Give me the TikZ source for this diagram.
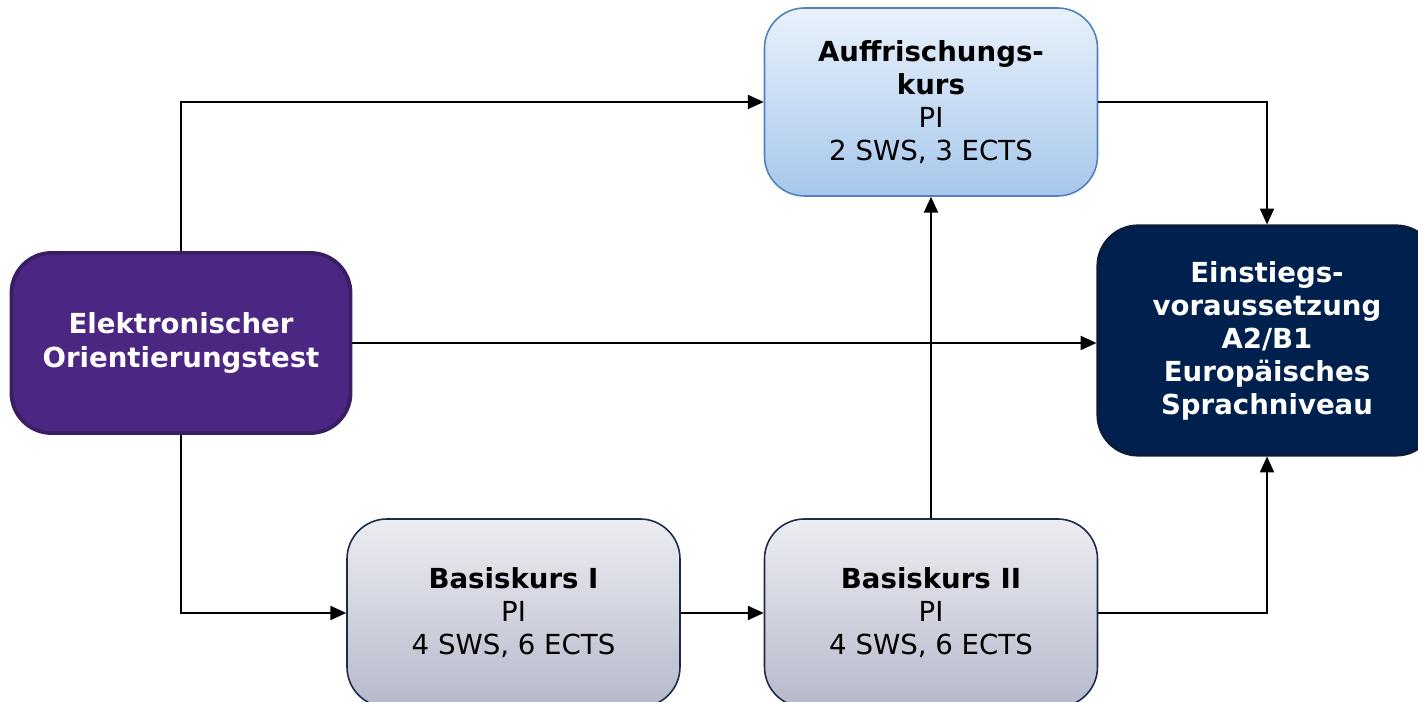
\documentclass[tikz,border=0pt]{standalone}
\usepackage{fontspec}
\setmainfont{DejaVu Sans}
\usetikzlibrary{positioning, arrows.meta}
\definecolor{testcol}{RGB}{75,38,130}
\definecolor{testborder}{RGB}{58,30,99}
\definecolor{goalcol}{RGB}{0,33,78}
\definecolor{goalborder}{RGB}{12,27,58}
\definecolor{refreshtop}{RGB}{232,241,251}
\definecolor{refreshbot}{RGB}{167,199,235}
\definecolor{refreshborder}{RGB}{79,129,189}
\definecolor{basetop}{RGB}{236,237,242}
\definecolor{basebot}{RGB}{182,185,203}
\definecolor{baseborder}{RGB}{27,42,74}

\begin{document}
\begin{tikzpicture}[
			box/.style={
				rectangle,
				rounded corners=0.8cm,
				align=center,
				font=\fontsize{15.7}{18.8}\selectfont,
				inner sep=0pt
			},
			testbox/.style={
				box,
				draw=testborder,
				line width=2.2pt,
				fill=testcol,
				text=white,
				minimum width=6.78cm,
				minimum height=3.6cm
			},
			goalbox/.style={
				box,
				draw=goalborder,
				line width=1.8pt,
				fill=goalcol,
				text=white,
				minimum width=6.76cm,
				minimum height=4.58cm
			},
			refreshbox/.style={
				box,
				draw=refreshborder,
				line width=0.9pt,
				top color=refreshtop,
				bottom color=refreshbot,
				minimum width=6.66cm,
				minimum height=3.76cm
			},
			basebox/.style={
				box,
				draw=baseborder,
				line width=0.9pt,
				top color=basetop,
				bottom color=basebot,
				minimum width=6.66cm,
				minimum height=3.76cm
			},
			link/.style={
				draw=black,
				line width=1pt,
				-{Triangle[length=9pt,width=8pt]}
			}
			]
			\clip (0,0) rectangle (28.36,14.04);
			\useasboundingbox (0,0) rectangle (28.36,14.04);
			
			% Boxes
			\node[testbox] (test) at (3.62,7.18) {\textbf{Elektronischer}\\\textbf{Orientierungstest}};
			\node[refreshbox] (auf) at (18.62,12.00) {\textbf{Auffrischungs-}\\\textbf{kurs}\\PI\\2 SWS, 3 ECTS};
			\node[goalbox] (ein) at (25.34,7.23) {\textbf{Einstiegs-}\\\textbf{voraussetzung}\\\textbf{A2/B1}\\\textbf{Europäisches}\\\textbf{Sprachniveau}};
			\node[basebox] (b1) at (10.27,1.78) {\textbf{Basiskurs I}\\PI\\4 SWS, 6 ECTS};
			\node[basebox] (b2) [right=8.35cm of b1.center, anchor=center] {\textbf{Basiskurs II}\\PI\\4 SWS, 6 ECTS};
			
			% Connections
			\draw[link] (test.north) |- (auf.west);
			\draw[link] (test.east) -- (test.east -| ein.west);
			\draw[link] (test.south) |- (b1.west);
			\draw[link] (b1.east) -- (b2.west);
			\draw[link] (b2.north) -- (auf.south);
			\draw[link] (auf.east) -| (ein.north);
			\draw[link] (b2.east) -| (ein.south);
		\end{tikzpicture}
\end{document}
